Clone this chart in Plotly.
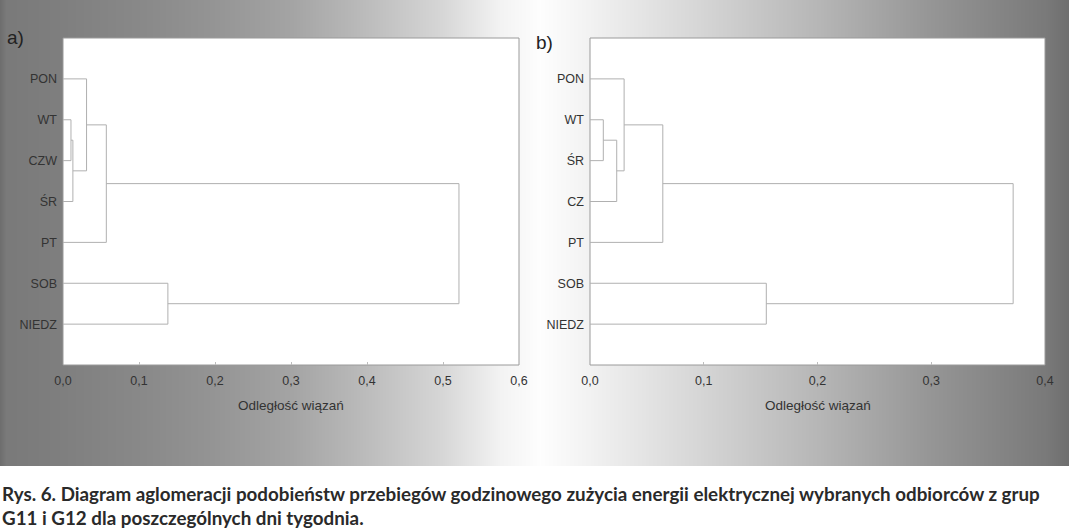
import zlib, struct, base64
import numpy as np
import plotly.graph_objects as go

# ---------------- data ----------------
leaves_a = ["PON", "WT", "CZW", "ŚR", "PT", "SOB", "NIEDZ"]
merge_a_left = [1, 7, 0, 9, 5, 10]
merge_a_right = [2, 3, 8, 4, 6, 11]
merge_a_height = [0.0105, 0.013, 0.031, 0.057, 0.138, 0.521]

leaves_b = ["PON", "WT", "ŚR", "CZ", "PT", "SOB", "NIEDZ"]
merge_b_left = [1, 7, 0, 9, 5, 10]
merge_b_right = [2, 3, 8, 4, 6, 11]
merge_b_height = [0.0117, 0.0235, 0.030, 0.064, 0.155, 0.372]

xtick_a_vals = [0.0, 0.1, 0.2, 0.3, 0.4, 0.5, 0.6]
xtick_a_text = ["0,0", "0,1", "0,2", "0,3", "0,4", "0,5", "0,6"]
xtick_b_vals = [0.0, 0.1, 0.2, 0.3, 0.4]
xtick_b_text = ["0,0", "0,1", "0,2", "0,3", "0,4"]

axis_title = "Odległość wiązań"
caption_1 = "Rys. 6. Diagram aglomeracji podobieństw przebiegów godzinowego zużycia energii elektrycznej wybranych odbiorców z grup"
caption_2 = "G11 i G12 dla poszczególnych dni tygodnia."

# ---------------- helpers ----------------
W, H = 1069, 531


def dendro_segments(n_leaves, left, right, height):
    pos = list(range(1, n_leaves + 1))
    hts = [0.0] * n_leaves
    xs, ys = [], []
    for l, r, h in zip(left, right, height):
        xs += [hts[l], h, h, hts[r], None]
        ys += [pos[l], pos[l], pos[r], pos[r], None]
        pos.append((pos[l] + pos[r]) / 2)
        hts.append(h)
    return xs, ys


def png_gray(arr):
    h, w = arr.shape
    raw = b"".join(b"\x00" + bytes(row) for row in arr.astype(np.uint8))

    def chunk(t, d):
        return struct.pack(">I", len(d)) + t + d + struct.pack(">I", zlib.crc32(t + d) & 0xffffffff)

    data = (b"\x89PNG\r\n\x1a\n" + chunk(b"IHDR", struct.pack(">IIBBBBB", w, h, 8, 0, 0, 0, 0))
            + chunk(b"IDAT", zlib.compress(raw)) + chunk(b"IEND", b""))
    return "data:image/png;base64," + base64.b64encode(data).decode()


# background gradient (decorative scan background)
grad_x = [0, 6, 60, 140, 210, 290, 360, 440, 500, 540, 590, 700, 820, 930, 1045, 1069]
grad_v = [110, 122, 127, 137, 148, 164, 186, 214, 243, 254, 242, 214, 182, 150, 122, 110]
row = np.interp(np.arange(W), grad_x, grad_v)
bg = np.tile(row, (4, 1))
bg_uri = png_gray(bg)

px = lambda x: x / W
py = lambda y: 1 - y / H

dom_a = [px(63), px(519)]
dom_b = [px(590), px(1045)]
dom_y = [py(365), py(38)]

xa, ya = dendro_segments(len(leaves_a), merge_a_left, merge_a_right, merge_a_height)
xb, yb = dendro_segments(len(leaves_b), merge_b_left, merge_b_right, merge_b_height)

line_style = dict(color="#b0b0b0", width=1)
fig = go.Figure()
fig.add_trace(go.Scatter(x=xa, y=ya, mode="lines", line=line_style, xaxis="x", yaxis="y",
                         hoverinfo="skip", showlegend=False))
fig.add_trace(go.Scatter(x=xb, y=yb, mode="lines", line=line_style, xaxis="x2", yaxis="y2",
                         hoverinfo="skip", showlegend=False))

tick_font = dict(family="Liberation Sans, Arial, sans-serif", size=12.5, color="#333333")

common_x = dict(showgrid=False, zeroline=False, showline=False, ticks="inside", ticklen=3,
                tickcolor="#bdbdbd", tickfont=tick_font, ticklabelstandoff=6, fixedrange=True,
                automargin=False)
common_y = dict(showgrid=False, zeroline=False, showline=False, ticks="", tickfont=tick_font,
                ticklabelstandoff=5, range=[8, 0], domain=dom_y, fixedrange=True, automargin=False)

fig.update_layout(
    width=W, height=H,
    margin=dict(l=0, r=0, t=0, b=0, pad=0, autoexpand=False),
    paper_bgcolor="white", plot_bgcolor="white",
    showlegend=False,
    xaxis=dict(domain=dom_a, range=[0, 0.6], tickvals=xtick_a_vals, ticktext=xtick_a_text, anchor="y", **common_x),
    yaxis=dict(anchor="x", tickvals=list(range(1, 8)), ticktext=leaves_a, **common_y),
    xaxis2=dict(domain=dom_b, range=[0, 0.4], tickvals=xtick_b_vals, ticktext=xtick_b_text, anchor="y2", **common_x),
    yaxis2=dict(anchor="x2", tickvals=list(range(1, 8)), ticktext=leaves_b, **common_y),
    images=[dict(source=bg_uri, xref="paper", yref="paper", x=0, y=1, sizex=1, sizey=466 / H,
                 sizing="stretch", xanchor="left", yanchor="top", layer="below")],
    shapes=[
        dict(type="rect", xref="x domain", yref="y domain", x0=0, x1=1, y0=0, y1=1,
             fillcolor="white", line=dict(color="#9a9a9a", width=1), layer="below"),
        dict(type="rect", xref="x2 domain", yref="y2 domain", x0=0, x1=1, y0=0, y1=1,
             fillcolor="white", line=dict(color="#9a9a9a", width=1), layer="below"),
    ],
    annotations=[
        dict(text="a)", xref="paper", yref="paper", x=px(5), y=py(37), xanchor="left", yanchor="middle",
             showarrow=False, font=dict(family="Liberation Sans, Arial, sans-serif", size=19, color="#222222")),
        dict(text="b)", xref="paper", yref="paper", x=px(534), y=py(43), xanchor="left", yanchor="middle",
             showarrow=False, font=dict(family="Liberation Sans, Arial, sans-serif", size=19, color="#222222")),
        dict(text=axis_title, xref="paper", yref="paper", x=(dom_a[0] + dom_a[1]) / 2, y=py(405),
             xanchor="center", yanchor="middle", showarrow=False,
             font=dict(family="Liberation Sans, Arial, sans-serif", size=13.5, color="#333333")),
        dict(text=axis_title, xref="paper", yref="paper", x=(dom_b[0] + dom_b[1]) / 2, y=py(405),
             xanchor="center", yanchor="middle", showarrow=False,
             font=dict(family="Liberation Sans, Arial, sans-serif", size=13.5, color="#333333")),
        dict(text="<b>" + caption_1 + "</b>", xref="paper", yref="paper", x=px(0), y=py(493),
             xanchor="left", yanchor="middle", showarrow=False,
             font=dict(family="Lato, sans-serif", size=18.8, color="#2a2a2a")),
        dict(text="<b>" + caption_2 + "</b>", xref="paper", yref="paper", x=px(0), y=py(517),
             xanchor="left", yanchor="middle", showarrow=False,
             font=dict(family="Lato, sans-serif", size=18.8, color="#2a2a2a")),
    ],
)

fig.write_html("out.html")
